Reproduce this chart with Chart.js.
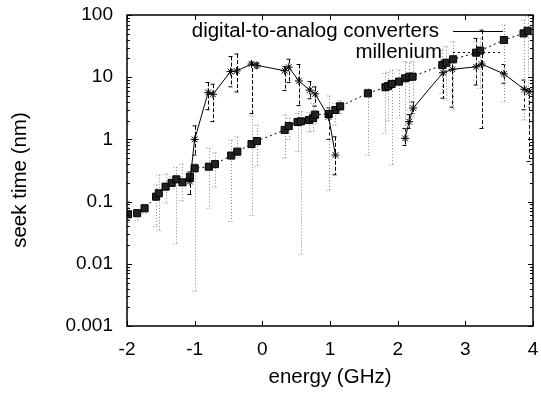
<!DOCTYPE html>
<html>
<head>
<meta charset="utf-8">
<script src="https://cdn.jsdelivr.net/npm/chart.js@4.4.1/dist/chart.umd.min.js"></script>
<style>
html, body { margin: 0; padding: 0; background: #fff; }
</style>
</head>
<body>
<canvas id="seekChart" width="541" height="394"></canvas>
<script>
// digital-to-analog converters (null = break in the line)
var dacX    = [-1.07, -1.0, -0.80, -0.73, -0.47, -0.38, -0.16, -0.08, 0.33, 0.39, 0.54, 0.70, 0.78, 0.98, 1.08, null, 2.11, 2.17, 2.23, 2.67, 2.81, 3.16, 3.24, 3.57, 3.87, 3.94];
var dacY    = [0.21, 1.0, 5.7, 5.3, 12.3, 12.6, 16.3, 15.5, 12.7, 14.5, 8.7, 6.2, 5.4, 2.3, 0.56, null, 1.04, 1.93, 3.2, 11.8, 13.4, 14.7, 16.3, 11.3, 6.4, 5.8];
var dacLow  = [0.13, 0.56, 3.0, 1.93, 7.0, 5.8, 2.6, 14, 6.1, 8.2, 3.5, 4.5, 3.4, 1.0, 0.27, null, 0.8, 1.5, 2.6, 4.6, 3.3, 7.5, 1.5, 8, 3, 0.44];
var dacHigh = [0.30, 1.65, 8.2, 7.7, 21.5, 23.6, 17.5, 17, 14.8, 19.4, 16, 8.5, 7, 3.2, 1.1, null, 1.5, 2.5, 4, 18.9, 20, 42, 57, 16, 9, 6.5];

// millenium
var milX    = [-1.985, -1.85, -1.74, -1.57, -1.53, -1.43, -1.34, -1.27, -1.18, -1.07, -1.0, -0.79, -0.70, -0.46, -0.37, -0.16, -0.08, 0.33, 0.39, 0.52, 0.57, 0.69, 0.75, 0.78, 0.98, 1.08, 1.15, 1.56, 1.82, 1.86, 1.91, 2.02, 2.11, 2.17, 2.22, 2.66, 2.72, 2.82, 3.16, 3.22, 3.57, 3.86, 3.92];
var milY    = [0.0625, 0.065, 0.078, 0.12, 0.136, 0.174, 0.2, 0.228, 0.204, 0.25, 0.343, 0.364, 0.40, 0.55, 0.635, 0.84, 0.94, 1.42, 1.64, 1.9, 1.95, 2.05, 2.2, 2.5, 2.56, 2.97, 3.4, 5.5, 6.9, 7.2, 7.8, 8.5, 9.6, 10.2, 10.2, 15.7, 17.1, 19.4, 24.8, 26.8, 39.6, 50.6, 55.8];
var milLow  = [0.046, 0.05, 0.065, 0.04, 0.034, 0.094, 0.16, 0.021, 0.103, 0.2, 0.0036, 0.078, 0.17, 0.048, 0.51, 0.06, 0.37, 0.5, 1.0, 0.64, 0.014, 1.33, 1.33, 1.8, 0.15, 1.7, 2.6, 0.56, 1.25, 2, 0.39, 2.2, 1.05, 3, 2.2, 5.5, 4.3, 3, 9, 6.6, 4.0, 2.05, 3];
var milHigh = [0.102, 0.075, 0.09, 0.185, 0.27, 0.275, 0.25, 0.356, 0.4, 0.3, 0.41, 0.72, 0.61, 0.98, 1.1, 2.4, 1.7, 2.47, 2.2, 2.6, 2.8, 2.7, 3.8, 3.5, 5, 3.8, 4.2, 6.5, 11.5, 12, 13, 13, 17.7, 17, 17.7, 27.4, 31, 37, 37, 42, 69, 83, 94];

var xTicks = [-2, -1, 0, 1, 2, 3, 4];
var yTicks = [0.001, 0.01, 0.1, 1, 10, 100];

var seriesNames = ['digital-to-analog converters', 'millenium'];
var yTitle = 'seek time (nm)';

function toPoints(xs, ys, lo, hi) {
    return xs.map(function (x, i) {
        return { x: x, y: ys[i], lo: lo[i], hi: hi[i] };
    });
}

var family = "'Liberation Sans', Arial, sans-serif";
var tickFont = { family: family, size: 19 };
var titleFont = { family: family, size: 20.5 };

function noOverflow(s) {
    s.paddingLeft = 0; s.paddingRight = 0; s.paddingTop = 0; s.paddingBottom = 0;
}

// gnuplot style error bars
var errorBars = {
    id: 'errorBars',
    beforeDatasetsDraw: function (chart) {
        var ctx = chart.ctx, xs = chart.scales.x, ys = chart.scales.y, a = chart.chartArea;
        ctx.save();
        ctx.beginPath();
        ctx.rect(a.left, a.top, a.right - a.left, a.bottom - a.top);
        ctx.clip();
        chart.data.datasets.forEach(function (ds) {
            ctx.strokeStyle = ds.errColor;
            ctx.lineWidth = 1;
            ctx.setLineDash(ds.errDash);
            ds.data.forEach(function (p) {
                if (p.y == null) return;
                var px = Math.round(xs.getPixelForValue(p.x)) + 0.5;
                var top = ys.getPixelForValue(p.hi), bot = ys.getPixelForValue(p.lo);
                ctx.beginPath();
                ctx.moveTo(px, top); ctx.lineTo(px, bot);
                ctx.moveTo(px - 3, top); ctx.lineTo(px + 3, top);
                ctx.moveTo(px - 3, bot); ctx.lineTo(px + 3, bot);
                ctx.stroke();
            });
        });
        ctx.restore();
    }
};

// box, inward tick marks, y title and key
var frame = {
    id: 'frame',
    afterDraw: function (chart) {
        var ctx = chart.ctx, xs = chart.scales.x, ys = chart.scales.y, a = chart.chartArea;
        ctx.save();
        ctx.strokeStyle = '#000';
        ctx.lineWidth = 1;
        ctx.setLineDash([]);
        ctx.beginPath();
        xTicks.forEach(function (v) {
            var px = Math.round(xs.getPixelForValue(v)) + 0.5;
            ctx.moveTo(px, a.bottom); ctx.lineTo(px, a.bottom - 5);
            ctx.moveTo(px, a.top); ctx.lineTo(px, a.top + 5);
        });
        for (var d = 0.001; d < 100; d *= 10) {
            for (var m = 1; m <= 10; m++) {
                var py = Math.round(ys.getPixelForValue(d * m)) + 0.5;
                var len = (m === 1 || m === 10) ? 5 : 3;
                ctx.moveTo(a.left, py); ctx.lineTo(a.left + len, py);
                ctx.moveTo(a.right, py); ctx.lineTo(a.right - len, py);
            }
        }
        ctx.stroke();
        ctx.lineWidth = 1.5;
        ctx.strokeRect(a.left, a.top, a.right - a.left, a.bottom - a.top);

        ctx.font = titleFont.size + 'px ' + family;
        ctx.fillStyle = '#000';
        ctx.textAlign = 'center';
        ctx.textBaseline = 'middle';

        // y title
        ctx.save();
        ctx.translate(20, 180);
        ctx.rotate(-Math.PI / 2);
        ctx.fillText(yTitle, 0, 0);
        ctx.restore();

        // key
        ctx.textAlign = 'right';
        ctx.lineWidth = 1;
        chart.data.datasets.forEach(function (ds, i) {
            var y = a.top + 16 + i * 21;
            ctx.fillText(ds.label, 439 + i * 3, y);
            ctx.setLineDash(ds.borderDash || []);
            ctx.beginPath();
            ctx.moveTo(453, Math.round(y) + 0.5);
            ctx.lineTo(503, Math.round(y) + 0.5);
            ctx.stroke();
        });
        ctx.restore();
    }
};

var ctx = document.getElementById('seekChart').getContext('2d');

var myChart = new Chart(ctx, {
    type: 'scatter',
    data: {
        datasets: [{
            label: seriesNames[0],
            data: toPoints(dacX, dacY, dacLow, dacHigh),
            showLine: true,
            spanGaps: false,
            borderColor: '#000',
            borderWidth: 1,
            pointStyle: 'star',
            pointRadius: 4,
            pointBorderColor: '#000',
            pointBorderWidth: 1,
            errColor: '#000',
            errDash: [4, 2]
        }, {
            label: seriesNames[1],
            data: toPoints(milX, milY, milLow, milHigh),
            showLine: true,
            borderColor: '#000',
            borderWidth: 1,
            borderDash: [2, 3],
            pointStyle: 'rect',
            pointRadius: 5,
            pointBackgroundColor: '#222',
            pointBorderColor: '#000',
            pointBorderWidth: 1,
            errColor: '#888',
            errDash: [1, 2]
        }]
    },
    options: {
        responsive: false,
        animation: false,
        layout: { padding: { top: 15, right: 8, left: 0, bottom: 0 } },
        plugins: {
            legend: { display: false },
            tooltip: { enabled: false }
        },
        scales: {
            x: {
                type: 'linear',
                min: -2,
                max: 4,
                afterBuildTicks: function (s) { s.ticks = xTicks.map(function (v) { return { value: v }; }); },
                afterFit: function (s) { s.height = 68; noOverflow(s); },
                grid: { display: false, drawTicks: false },
                border: { display: false },
                ticks: { font: tickFont, color: '#000', padding: 12, maxRotation: 0 },
                title: { display: true, text: 'energy (GHz)', font: titleFont, color: '#000', padding: { top: 0, bottom: 4 } }
            },
            y: {
                type: 'logarithmic',
                min: 0.001,
                max: 100,
                afterBuildTicks: function (s) { s.ticks = yTicks.map(function (v) { return { value: v }; }); },
                afterFit: function (s) { s.width = 127; noOverflow(s); },
                grid: { display: false, drawTicks: false },
                border: { display: false },
                ticks: {
                    font: tickFont,
                    color: '#000',
                    padding: 14,
                    callback: function (v) { return String(v); }
                },
                title: { display: false }
            }
        }
    },
    plugins: [errorBars, frame]
});
</script>
</body>
</html>
